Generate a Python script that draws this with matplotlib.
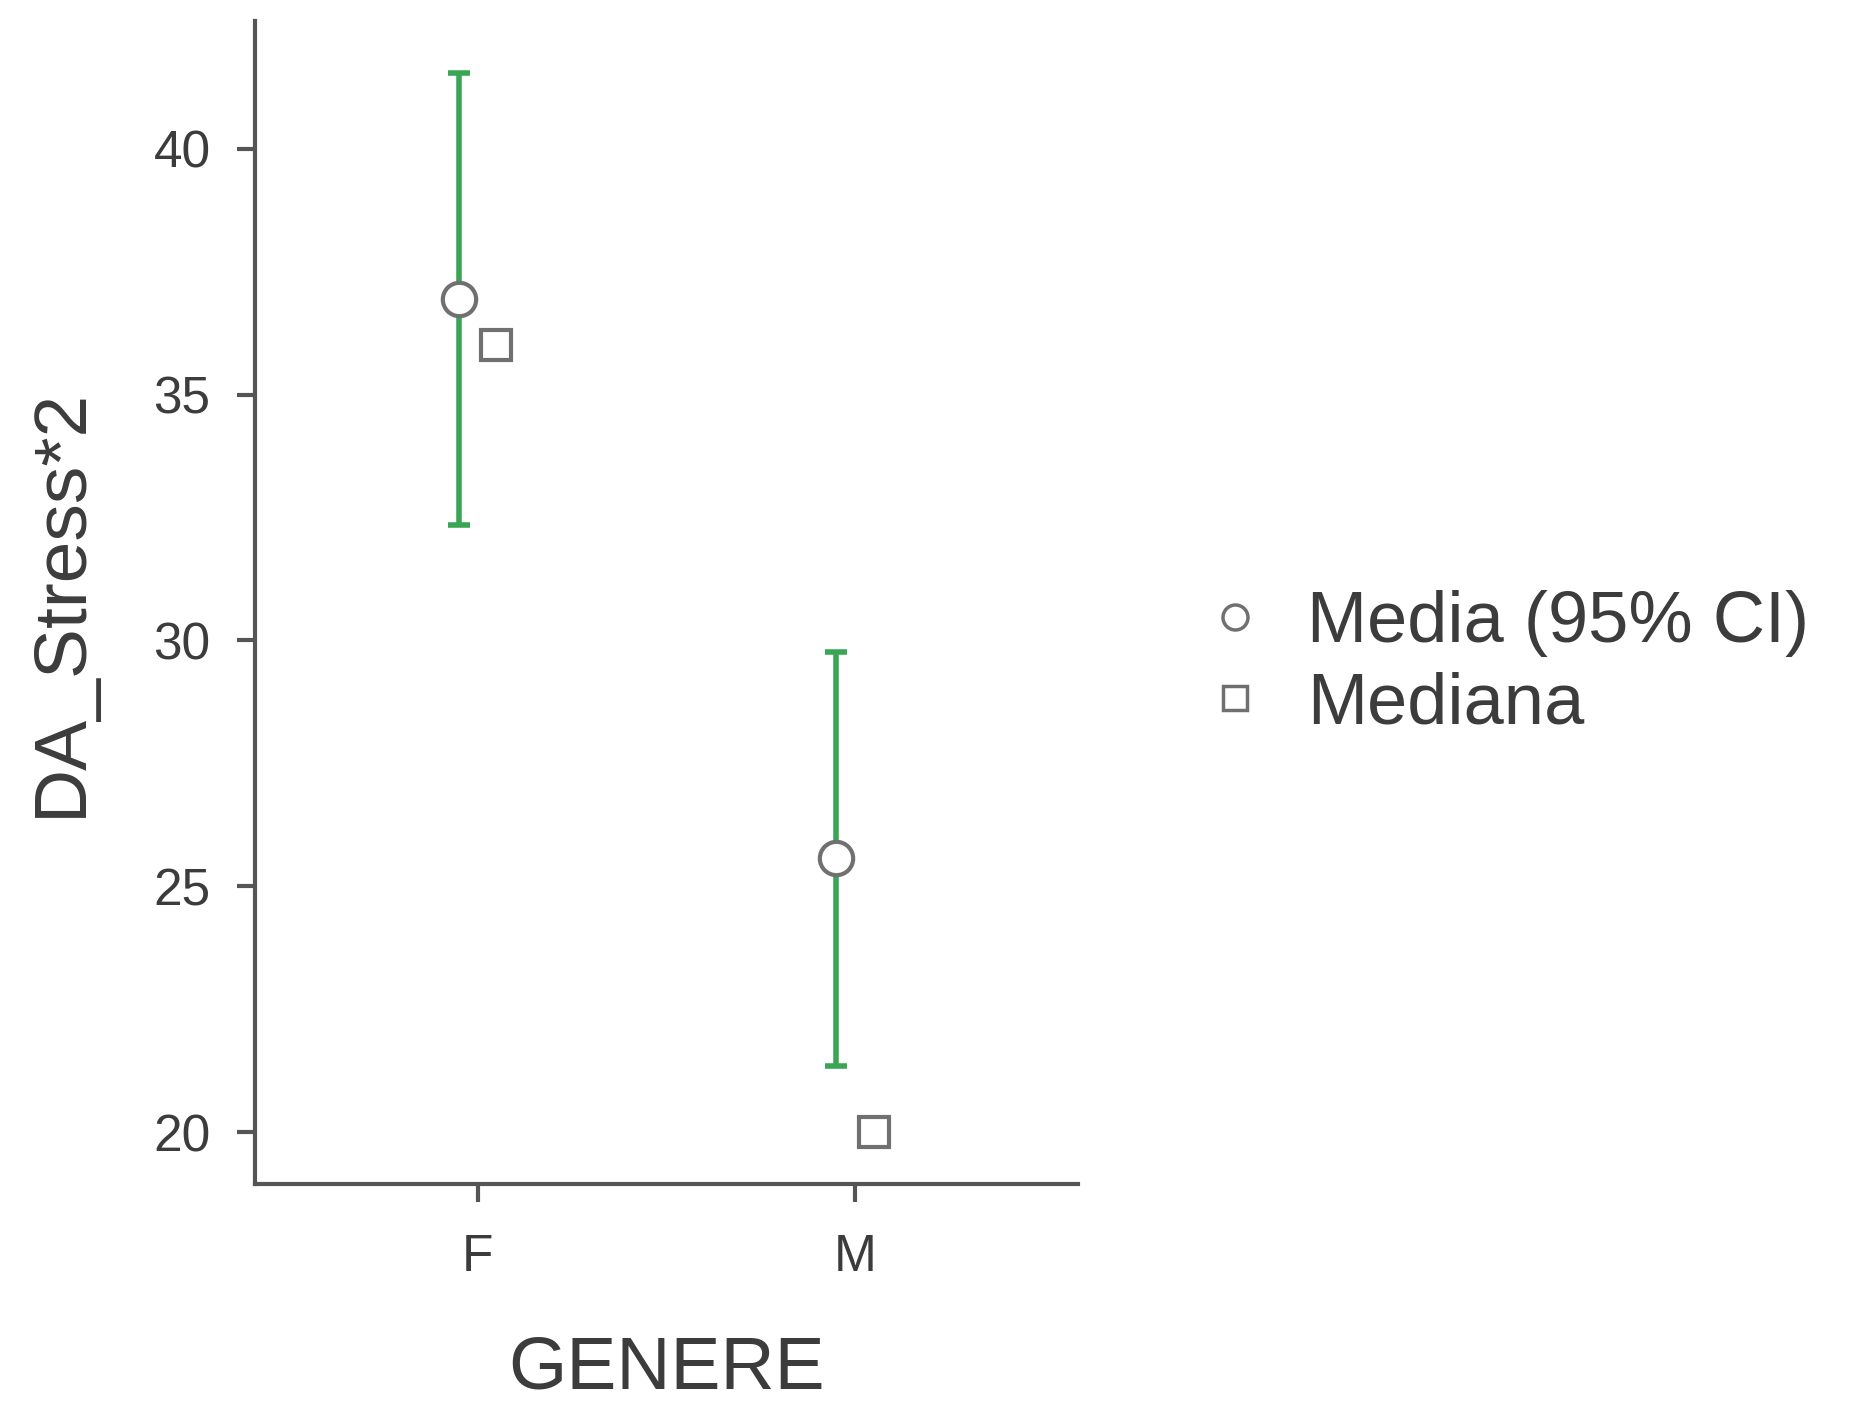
import matplotlib
matplotlib.use("Agg")
import matplotlib.pyplot as plt
from matplotlib.lines import Line2D
import numpy as np

categories = ["F", "M"]
mean_values = [36.94, 25.57]
ci_lower = [32.35, 21.35]
ci_upper = [41.54, 29.77]
median_values = [36.0, 20.0]
y_ticks = [20, 25, 30, 35, 40]
legend_labels = ["Media (95% CI)", "Mediana"]

plt.rcParams['font.family'] = ['Liberation Sans', 'DejaVu Sans']
text_color = '#3c3c3c'
spine_color = '#555555'
green = '#3aa655'
mk_edge = '#707070'

fig = plt.figure(figsize=(18.61, 14.16), dpi=100)
ax = fig.add_axes([0.137, 0.1635, 0.442, 0.8215])

x = np.arange(len(categories))
means = np.array(mean_values)
yerr = np.vstack([means - np.array(ci_lower), np.array(ci_upper) - means])
ax.errorbar(x - 0.05, means, yerr=yerr, fmt='none', ecolor=green,
            elinewidth=4, capsize=8, capthick=4, zorder=2)
ax.plot(x - 0.05, means, linestyle='none', marker='o', markersize=24,
        markerfacecolor='white', markeredgecolor=mk_edge, markeredgewidth=3, zorder=3)
ax.plot(x + 0.05, median_values, linestyle='none', marker='s', markersize=21,
        markerfacecolor='white', markeredgecolor=mk_edge, markeredgewidth=3, zorder=3)

ax.set_xlim(-0.59, 1.59)
ax.set_ylim(18.94, 42.59)
ax.set_xticks(x)
ax.set_xticklabels(categories)
ax.set_yticks(y_ticks)

for s in ['top', 'right']:
    ax.spines[s].set_visible(False)
for s in ['left', 'bottom']:
    ax.spines[s].set_color(spine_color)
    ax.spines[s].set_linewidth(3)

ax.tick_params(axis='both', colors=spine_color, length=13, width=3,
               labelsize=37, labelcolor=text_color)
ax.tick_params(axis='y', pad=19)
ax.tick_params(axis='x', pad=22)

ax.set_xlabel("GENERE", fontsize=54, color=text_color, labelpad=38)
ax.set_ylabel("DA_Stress*2", fontsize=54, color=text_color, labelpad=41)

handles = [
    Line2D([], [], linestyle='none', marker='o', markersize=18,
           markerfacecolor='white', markeredgecolor=mk_edge, markeredgewidth=2.5),
    Line2D([], [], linestyle='none', marker='s', markersize=17,
           markerfacecolor='white', markeredgecolor=mk_edge, markeredgewidth=2.5),
]
leg = fig.legend(handles, legend_labels, loc='center left',
                 bbox_to_anchor=(0.644, 0.531), frameon=False,
                 fontsize=52, handletextpad=0.5, labelspacing=0.2,
                 handlelength=1.0, borderaxespad=0, borderpad=0)
for t in leg.get_texts():
    t.set_color(text_color)

fig.savefig("out.png", dpi=100, facecolor='white')
